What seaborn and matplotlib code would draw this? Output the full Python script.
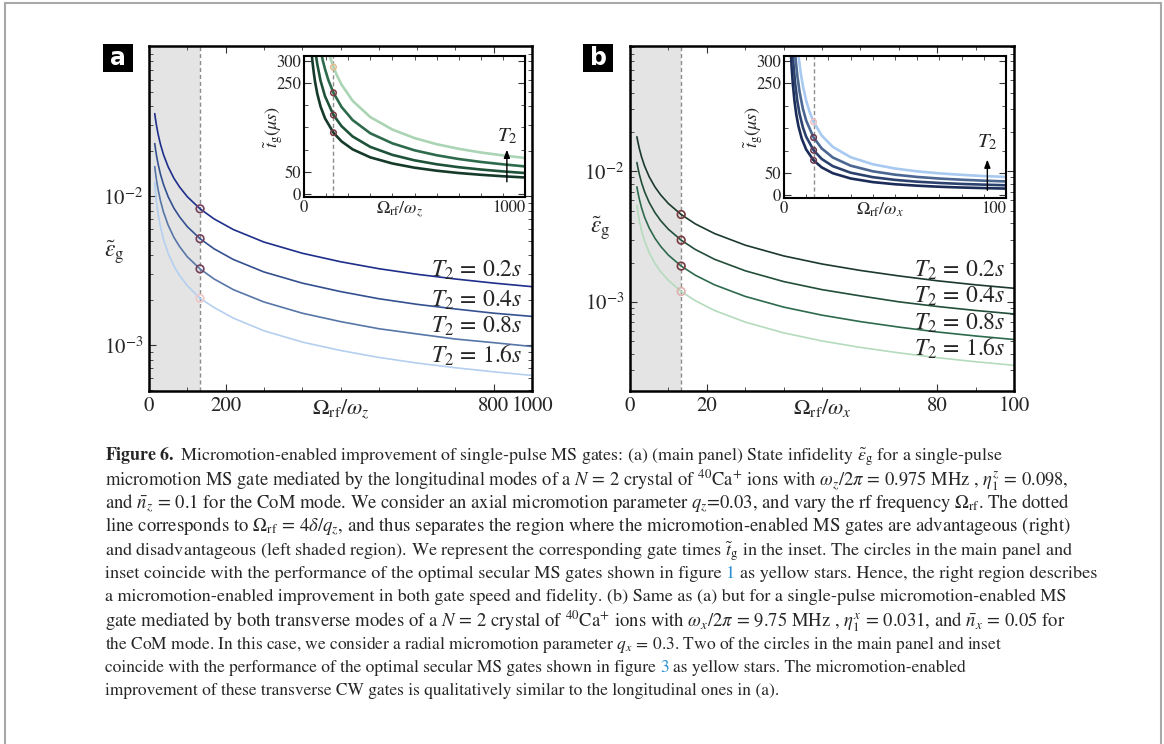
import numpy as np
import pandas as pd
import matplotlib
matplotlib.use('Agg')
import matplotlib.pyplot as plt
import matplotlib.ticker as mticker
from matplotlib.patches import Rectangle
import seaborn as sns

# ---------------- data ----------------
T2_names = ['0.2', '0.4', '0.8', '1.6']

# (a) main panel: infidelity vs Omega_rf/omega_z
xa = [15, 17, 20, 24, 30, 38, 50, 65, 80, 100, 133.3, 170, 220, 300, 400, 500, 600, 700, 800, 900, 1000]
eps_a_02 = [0.03574, 0.03279, 0.02931, 0.02587, 0.02223, 0.01893, 0.01573, 0.01318, 0.01150, 0.00991, 0.00822,
            0.00703, 0.00597, 0.00492, 0.00414, 0.00363, 0.00326, 0.00299, 0.00278, 0.00261, 0.00247]
eps_a_04 = [0.02252, 0.02066, 0.01847, 0.01630, 0.01400, 0.01193, 0.00991, 0.00830, 0.00725, 0.00624, 0.00518,
            0.00443, 0.00376, 0.00310, 0.00261, 0.00229, 0.00205, 0.00188, 0.00175, 0.00164, 0.00156]
eps_a_08 = [0.01576, 0.01430, 0.01260, 0.01097, 0.00929, 0.00780, 0.00639, 0.00529, 0.00458, 0.00392, 0.00325,
            0.00278, 0.00236, 0.00195, 0.00164, 0.00144, 0.00129, 0.00119, 0.00110, 0.00104, 0.00098]
eps_a_16 = [0.01237, 0.01062, 0.00894, 0.00755, 0.00622, 0.00511, 0.00414, 0.00340, 0.00293, 0.00251, 0.00206,
            0.00179, 0.00152, 0.00125, 0.00105, 0.000922, 0.000828, 0.000759, 0.000706, 0.000663, 0.000627]
circ_a = [0.00822, 0.00518, 0.00325, 0.00206]

# (a) inset: gate time (us)
xi_a_02 = [34, 38, 44, 50, 60, 75, 95, 133.3, 170, 220, 300, 400, 500, 600, 700, 800, 900, 1000]
t_a_02 = [321, 299.5, 274, 253, 226, 197, 170.5, 138, 118.4, 100.5, 82.4, 68.6, 59.1, 52.3, 47.1, 43.1, 39.8, 37]
xi_a_04 = [48, 54, 60, 75, 95, 133.3, 170, 220, 300, 400, 500, 600, 700, 800, 900, 1000]
t_a_04 = [336, 312.4, 292.7, 255, 220.3, 178, 152.7, 129.5, 106, 88, 75.7, 66.9, 60.2, 55, 50.7, 47]
xi_a_08 = [60, 66, 75, 85, 95, 110, 133.3, 170, 220, 300, 400, 500, 600, 700, 800, 900, 1000]
t_a_08 = [373, 352, 325.6, 301, 281.5, 257, 228, 196, 166.5, 136.7, 114, 98.3, 87.2, 78.7, 72.1, 66.7, 62]
xi_a_16 = [85, 95, 110, 120, 133.3, 150, 170, 220, 300, 400, 500, 600, 700, 800, 900, 1000]
t_a_16 = [376, 352, 321.8, 305.3, 286, 266.2, 246.4, 210, 173.2, 145.1, 125.9, 112.1, 101.7, 93.4, 86.8, 81]
tcirc_a = [138, 178, 228, 286]

# (b) main panel: infidelity vs Omega_rf/omega_x
xb = [1.8, 2, 2.4, 3, 3.8, 5, 6.5, 8, 10, 13.33, 17, 22, 30, 40, 50, 60, 70, 80, 90, 100]
eps_b_02 = [0.01843, 0.01713, 0.01510, 0.01294, 0.01099, 0.00910, 0.00760, 0.00660, 0.00567, 0.00467,
            0.00396, 0.00334, 0.00272, 0.00225, 0.00195, 0.00174, 0.00158, 0.00145, 0.00135, 0.00127]
eps_b_04 = [0.01171, 0.01088, 0.00959, 0.00822, 0.00698, 0.00578, 0.00483, 0.00419, 0.00360, 0.00297,
            0.00252, 0.00212, 0.00173, 0.00143, 0.00124, 0.00111, 0.00100, 0.000921, 0.000858, 0.000807]
eps_b_08 = [0.00761, 0.00704, 0.00618, 0.00527, 0.00445, 0.00368, 0.00307, 0.00266, 0.00228, 0.00188,
            0.00160, 0.00135, 0.00110, 0.000911, 0.000790, 0.000705, 0.000640, 0.000587, 0.000547, 0.000514]
eps_b_16 = [0.00549, 0.00497, 0.00423, 0.00352, 0.00292, 0.00238, 0.00197, 0.00170, 0.00146, 0.00120,
            0.00102, 0.000858, 0.000699, 0.000578, 0.000501, 0.000447, 0.000406, 0.000373, 0.000347, 0.000326]
circ_b = [0.00467, 0.00297, 0.00188, 0.00120]

# (b) inset
xi_b_02 = [3.1, 3.5, 4, 4.7, 5.5, 6.5, 8, 10, 13.33, 17, 22, 30, 40, 50, 60, 70, 80, 90, 100]
t_b_02 = [318, 282, 247.6, 211.5, 181.5, 154.4, 126.4, 102.2, 78, 62.3, 49.3, 37.6, 29.5, 24.7, 21.5, 19.1, 17.4, 16.1, 15]
xi_b_04 = [3.8, 4.3, 5, 6, 7, 8.5, 10, 13.33, 17, 22, 30, 40, 50, 60, 70, 80, 90, 100]
t_b_04 = [326.7, 289.9, 250.8, 210.7, 182.1, 151.8, 130.6, 100.6, 81.1, 65, 50.5, 40.5, 34.4, 30.4, 27.6, 25.4, 23.8, 22.4]
xi_b_08 = [4.7, 5.3, 6, 7, 8.5, 10, 13.33, 17, 22, 30, 40, 50, 60, 70, 80, 90, 100]
t_b_08 = [336.8, 300.4, 267.2, 231.3, 193.3, 166.7, 129, 104.6, 84.4, 66.2, 53.6, 46.1, 41, 37.4, 34.8, 32.7, 31]
xi_b_16 = [5.8, 6.5, 7.5, 8.5, 10, 11.5, 13.33, 17, 22, 30, 40, 50, 60, 70, 80, 90, 100]
t_b_16 = [348.2, 313.1, 274.3, 244.6, 211.2, 186.5, 163.9, 133.3, 108, 85.1, 69.3, 59.8, 53.5, 49, 45.7, 43, 41]
tcirc_b = [78, 100.6, 129, 164]

cut_a = 133.3   # 4 delta / q_z
cut_b = 13.33   # 4 delta / q_x

caption = [
    r"$\mathbf{Figure\ 6.}$ Micromotion-enabled improvement of single-pulse MS gates: (a) (main panel) State infidelity $\tilde{\epsilon}_{\rm g}$ for a single-pulse",
    r"micromotion MS gate mediated by the longitudinal modes of a $N\,=\,2$ crystal of $^{40}$Ca$^{+}$ ions with $\omega_z/2\pi\,=\,0.975$ MHz , $\eta_1^z\,=\,0.098$,",
    r"and $\bar{n}_z\,=\,0.1$ for the CoM mode. We consider an axial micromotion parameter $q_z$=0.03, and vary the rf frequency $\Omega_{\rm rf}$. The dotted",
    r"line corresponds to $\Omega_{\rm rf}\,=\,4\delta/q_z$, and thus separates the region where the micromotion-enabled MS gates are advantageous (right)",
    r"and disadvantageous (left shaded region). We represent the corresponding gate times $\tilde{t}_{\rm g}$ in the inset. The circles in the main panel and",
    (r"inset coincide with the performance of the optimal secular MS gates shown in figure", "1",
     "as yellow stars. Hence, the right region describes"),
    r"a micromotion-enabled improvement in both gate speed and fidelity. (b) Same as (a) but for a single-pulse micromotion-enabled MS",
    r"gate mediated by both transverse modes of a $N\,=\,2$ crystal of $^{40}$Ca$^{+}$ ions with $\omega_x/2\pi\,=\,9.75$ MHz , $\eta_1^x\,=\,0.031$, and $\bar{n}_x\,=\,0.05$ for",
    r"the CoM mode. In this case, we consider a radial micromotion parameter $q_x\,=\,0.3$. Two of the circles in the main panel and inset",
    (r"coincide with the performance of the optimal secular MS gates shown in figure", "3",
     "as yellow stars. The micromotion-enabled"),
    r"improvement of these transverse CW gates is qualitatively similar to the longitudinal ones in (a).",
]
# approximate right end (px) of each printed caption line in the reference
cap_right = [1000, 1067, 1070, 1067, 1068, 1100, 1067, 1063, 997, 835, 623]

# ---------------- style ----------------
sns.set_theme(style='ticks')
plt.rcParams['font.family'] = ['STIXGeneral', 'DejaVu Serif']
plt.rcParams['mathtext.fontset'] = 'stix'

W, H = 1164, 744
fig = plt.figure(figsize=(W / 100, H / 100), dpi=100)


def px_rect(left, top, right, bottom):
    return [left / W, 1 - bottom / H, (right - left) / W, (bottom - top) / H]


def long_df(xs, ys):
    rows = []
    for name, x, y in zip(T2_names, xs, ys):
        for xv, yv in zip(x, y):
            rows.append((name, xv, yv))
    return pd.DataFrame(rows, columns=['T2', 'x', 'y'])


def style_axes(ax, lw=1.6):
    for s in ax.spines.values():
        s.set_linewidth(lw)
        s.set_color('black')
    ax.tick_params(which='both', direction='in', top=True, right=True, color='#333333')
    ax.tick_params(which='major', length=5, width=0.8)
    ax.tick_params(which='minor', length=3, width=0.6)


def main_panel(rect, xs, ys, circ, cut, xlim, ylim, colors, ccols, xticks, xticklabels,
               xlabel, lab_x, lab_y, ylab_pos):
    ax = fig.add_axes(rect)
    ax.axvspan(0, cut, color='#e4e4e4', lw=0, zorder=0)
    ax.axvline(cut, color='#8c8c8c', ls=(0, (3, 2)), lw=1, zorder=1)
    sns.lineplot(data=long_df(xs, ys), x='x', y='y', hue='T2', palette=colors,
                 estimator=None, sort=False, legend=False, lw=1.2, ax=ax, zorder=2)
    ax.scatter([cut] * 4, circ, s=30, facecolors='none', edgecolors=ccols, lw=1.2, zorder=3)
    ax.set_yscale('log')
    ax.set_xlim(*xlim)
    ax.set_ylim(*ylim)
    ax.xaxis.set_major_locator(mticker.FixedLocator(xticks))
    ax.set_xticklabels(xticklabels)
    ax.xaxis.set_minor_locator(mticker.MultipleLocator(xlim[1] / 10))
    ax.yaxis.set_major_locator(mticker.FixedLocator([1e-3, 1e-2]))
    ax.yaxis.set_major_formatter(mticker.FixedFormatter([r'$10^{-3}$', r'$10^{-2}$']))
    ax.yaxis.set_minor_locator(mticker.LogLocator(base=10, subs=np.arange(2, 10)))
    ax.yaxis.set_minor_formatter(mticker.NullFormatter())
    style_axes(ax, lw=1.8)
    ax.tick_params(labelsize=15, pad=4)
    ax.set_xlabel(xlabel, fontsize=16)
    ax.xaxis.set_label_coords(0.5, -0.018)
    ax.set_ylabel(r'$\tilde{\varepsilon}_{\rm g}$', fontsize=17, rotation=0, va='center', ha='center')
    ax.yaxis.set_label_coords(*ylab_pos)
    for name, yy in zip(T2_names, lab_y):
        ax.text(lab_x, yy, r'$T_2\,=\,%ss$' % name, fontsize=17, ha='right', va='center')
    return ax


def inset_panel(rect, xs, ys, circ, cut, xlim, ylim, colors, ccols, xlabel, arrow):
    ax = fig.add_axes(rect)
    ax.set_facecolor('white')
    ax.axvline(cut, color='#8c8c8c', ls=(0, (3, 2)), lw=1, zorder=1)
    sns.lineplot(data=long_df(xs, ys), x='x', y='y', hue='T2', palette=colors,
                 estimator=None, sort=False, legend=False, lw=1.9, ax=ax, zorder=2)
    ax.scatter([cut] * 4, circ, s=16, facecolors='none', edgecolors=ccols, lw=1.1, zorder=3)
    ax.set_xlim(*xlim)
    ax.set_ylim(*ylim)
    ax.xaxis.set_major_locator(mticker.FixedLocator([0, xlim[1]]))
    ax.xaxis.set_minor_locator(mticker.MultipleLocator(xlim[1] / 10))
    ax.yaxis.set_major_locator(mticker.FixedLocator([0, 50, 250, 300]))
    ax.yaxis.set_minor_locator(mticker.FixedLocator([100, 150, 200]))
    style_axes(ax, lw=1.5)
    ax.tick_params(labelsize=12, pad=2)
    ax.get_xticklabels()[-1].set_horizontalalignment('right')
    ax.set_xlabel(xlabel, fontsize=13)
    ax.xaxis.set_label_coords(0.43, -0.02)
    ax.set_ylabel(r'$\tilde{t}_{\rm g}(\mu s)$', fontsize=13)
    ax.yaxis.set_label_coords(-0.085, 0.5)
    x_ar, y0, y1, ytxt = arrow
    ax.annotate('', xy=(x_ar, y1), xytext=(x_ar, y0),
                arrowprops=dict(arrowstyle='-|>,head_length=0.4,head_width=0.15', color='black', lw=1))
    ax.text(x_ar, ytxt, r'$T_2$', fontsize=15, ha='center', va='center')
    return ax


blues_a = ['#1e2e8a', '#34508f', '#5776a8', '#b5cff0']
greens_ia = ['#163a2a', '#1e5239', '#2d6b4c', '#aad4b4']
greens_b = ['#1b3a2c', '#224e3a', '#2e6a4d', '#b4dbbc']
blues_ib = ['#1b2c58', '#2b426f', '#4a6691', '#a8c9f0']

main_panel(px_rect(149, 46, 532, 391), [xa] * 4, [eps_a_02, eps_a_04, eps_a_08, eps_a_16],
           circ_a, cut_a, (0, 1000), (4.93e-4, 0.1016), blues_a,
           ['#74405a', '#74405a', '#74405a', '#efc8c8'],
           [0, 200, 900, 1000], ['0', '200', '800', '1000'],
           r'$\Omega_{\rm rf}/\omega_z$', 976, [3.19e-3, 2.0e-3, 1.33e-3, 8.57e-4], (-0.09, 0.40))

inset_panel(px_rect(304, 56, 525, 197), [xi_a_02, xi_a_04, xi_a_08, xi_a_16],
            [t_a_02, t_a_04, t_a_08, t_a_16], tcirc_a, cut_a, (0, 1000), (-7, 311), greens_ia,
            ['#7a3a42', '#7a3a42', '#7a3a42', '#e6b98f'], r'$\Omega_{\rm rf}/\omega_z$',
            (918, 21, 106, 129))

main_panel(px_rect(630, 46, 1014, 391), [xb] * 4, [eps_b_02, eps_b_04, eps_b_08, eps_b_16],
           circ_b, cut_b, (0, 100), (2.07e-4, 0.0916), greens_b,
           ['#77393d', '#77393d', '#77393d', '#deb0ae'],
           [0, 20, 80, 100], ['0', '20', '80', '100'],
           r'$\Omega_{\rm rf}/\omega_x$', 97.7, [1.75e-3, 1.11e-3, 6.8e-4, 4.37e-4], (-0.078, 0.47))

inset_panel(px_rect(784, 56, 1006, 198), [xi_b_02, xi_b_04, xi_b_08, xi_b_16],
            [t_b_02, t_b_04, t_b_08, t_b_16], tcirc_b, cut_b, (0, 100), (-6, 311), blues_ib,
            ['#6c3a50', '#6c3a50', '#6c3a50', '#f0c2c2'], r'$\Omega_{\rm rf}/\omega_x$',
            (91.6, 5, 86, 119))

# panel letters
for x0, letter in [(103, 'a'), (583, 'b')]:
    fig.patches.append(Rectangle((x0 / W, 1 - 72 / H), 30 / W, 28 / H, transform=fig.transFigure,
                                 fc='black', ec='none'))
    fig.text((x0 + 15) / W, 1 - 58 / H, letter, color='white', fontsize=17, fontweight='bold',
             family='DejaVu Sans', ha='center', va='center')

# outer frame
fig.patches.append(Rectangle((5 / W, -0.02), 1156 / W, 1 - 3 / H + 0.02, transform=fig.transFigure,
                             fill=False, ec='#a8a8a8', lw=1.5))

# caption, one text per printed line; base size fitted on line 7, small per-line nudges
cap_x0, cap_y0, cap_dy = 105, 457, 23.4
renderer = fig.canvas.get_renderer()


def wpx(s, fs):
    t = fig.text(0, 0, s, fontsize=fs)
    w = t.get_window_extent(renderer).width
    t.remove()
    return w


base_fs = 14 * (cap_right[6] - cap_x0) / wpx(caption[6], 14)

for i, (line, right) in enumerate(zip(caption, cap_right)):
    y = 1 - (cap_y0 + i * cap_dy) / H
    full = ' '.join(line) if isinstance(line, tuple) else line
    k = (right - cap_x0) / wpx(full, base_fs)
    fs = base_fs * min(max(k, 0.96), 1.04)
    if isinstance(line, tuple):
        pre, num, post = line
        fig.text(cap_x0 / W, y, pre, fontsize=fs, va='center')
        xn = cap_x0 + wpx(pre + ' ' + num, fs) - wpx(num, fs)
        fig.text(xn / W, y, num, fontsize=fs, va='center', color='#2a8fd0')
        first = post.split()[0]
        xp = cap_x0 + wpx(pre + ' ' + num + ' ' + first, fs) - wpx(first, fs)
        fig.text(xp / W, y, post, fontsize=fs, va='center')
    else:
        fig.text(cap_x0 / W, y, line, fontsize=fs, va='center')

fig.savefig('out.png', dpi=100)
